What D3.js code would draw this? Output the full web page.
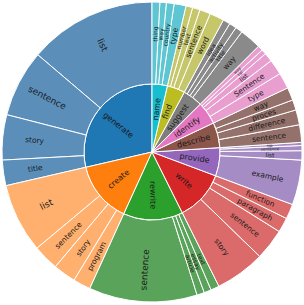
<!DOCTYPE html>
<html><head><meta charset="utf-8">
<script src="https://cdn.jsdelivr.net/npm/d3@7"></script>
<style>body{margin:0;background:#fff}svg{display:block}text{font-family:"DejaVu Sans",sans-serif;fill:#1a1a1a}</style>
</head><body>
<script>
// Data
const verbs = ["generate","create","rewrite","write","provide","describe","identify","suggest","find","name"];
const nouns = [
  ["list","sentence","story","title"],
  ["list","sentence","story","program"],
  ["sentence","article","essay","text"],
  ["story","sentence","paragraph","function"],
  ["example","list","sentence","tip"],
  ["sentence","difference","proces","way"],
  ["type","Sentence","list","tip","way"],
  ["way","title","activity","idea"],
  ["word","sentence","text","number"],
  ["type","country","way","thing"]
];
const nounCounts = [
  [496,260,175,99],
  [269,100,88,68],
  [420,29,28,33],
  [194,121,57,58],
  [174,36,20,12],
  [68,58,40,50],
  [62,60,34,19,20],
  [84,28,28,28],
  [56,42,29,26],
  [46,30,25,30]
];
// Styles
const innerColors = d3.schemeCategory10;
const outerColors = ["#5b8fba","#ffb06e","#5aa35a","#db6b6b","#a58cc4","#94716a","#e89fd0","#8a8a8a","#c6c66a","#5ec5d2"];

const W = 304, H = 305, cx = 152, cy = 152, r0 = 68, r1 = 150;
const svg = d3.select("body").append("svg").attr("width", W).attr("height", H);
const g = svg.append("g").attr("transform", `translate(${cx},${cy})`);

const verbTotals = nounCounts.map(a => d3.sum(a));
const pie = d3.pie().sort(null).startAngle(2 * Math.PI).endAngle(0);
const innerArcs = pie(verbTotals);

const flat = [];
verbs.forEach((v, i) => nouns[i].forEach((n, j) => flat.push({ verb: i, noun: n, value: nounCounts[i][j] })));
const outerArcs = d3.pie().sort(null).value(d => d.value).startAngle(2 * Math.PI).endAngle(0)(flat);

const arcIn = d3.arc().innerRadius(0).outerRadius(r0);
const arcOut = d3.arc().innerRadius(r0).outerRadius(r1);

g.selectAll("path.in").data(innerArcs).join("path").attr("class", "in")
  .attr("d", arcIn).attr("fill", (d, i) => innerColors[i])
  .attr("stroke", "#fff").attr("stroke-width", 1);
g.selectAll("path.out").data(outerArcs).join("path").attr("class", "out")
  .attr("d", arcOut).attr("fill", d => outerColors[d.data.verb])
  .attr("stroke", "#fff").attr("stroke-width", 1);

function place(d, r) {
  const a = (d.startAngle + d.endAngle) / 2;
  const x = r * Math.sin(a), y = -r * Math.cos(a);
  let deg = a * 180 / Math.PI;
  deg = ((deg % 360) + 360) % 360;
  let rot = deg <= 180 ? deg - 90 : deg + 90 - 360;
  return `translate(${x},${y}) rotate(${rot})`;
}

g.selectAll("text.in").data(innerArcs).join("text").attr("class", "in")
  .attr("transform", d => place(d, 43))
  .attr("text-anchor", "middle").attr("dominant-baseline", "central")
  .attr("font-size", 8).text((d, i) => verbs[i]);

g.selectAll("text.out").data(outerArcs).join("text").attr("class", "out")
  .attr("transform", d => place(d, 118))
  .attr("text-anchor", "middle").attr("dominant-baseline", "central")
  .attr("font-size", d => {
    const deg = Math.abs(d.endAngle - d.startAngle) * 180 / Math.PI;
    return deg < 2.2 ? 4 : deg < 4 ? 6 : deg > 25 ? 9 : 7.5;
  })
  .text(d => d.data.noun);
</script>
</body></html>
